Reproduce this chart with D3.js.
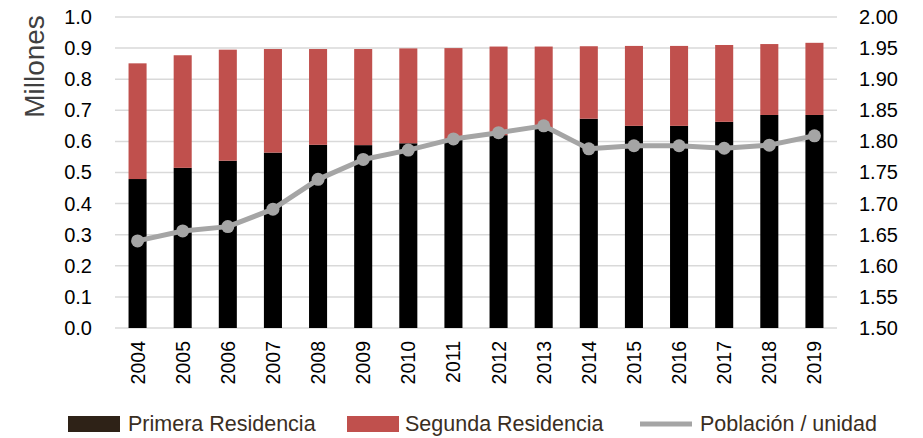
<!DOCTYPE html>
<html><head><meta charset="utf-8">
<script src="https://cdn.jsdelivr.net/npm/d3@7"></script>
<style>body{margin:0;background:#fff;} svg{display:block;}</style>
</head><body>
<script>
const years = ["2004","2005","2006","2007","2008","2009","2010","2011","2012","2013","2014","2015","2016","2017","2018","2019"];
const primera = [0.479,0.515,0.538,0.564,0.589,0.588,0.594,0.607,0.620,0.640,0.673,0.650,0.650,0.663,0.685,0.685];
const total = [0.851,0.877,0.895,0.897,0.897,0.897,0.899,0.900,0.905,0.905,0.906,0.907,0.907,0.910,0.913,0.917];
const segunda = total.map((t,i)=>+(t-primera[i]).toFixed(3));
const poblacion = [1.640,1.656,1.663,1.691,1.739,1.771,1.786,1.804,1.814,1.825,1.788,1.793,1.793,1.789,1.794,1.809];
const leftTicks = [0,0.1,0.2,0.3,0.4,0.5,0.6,0.7,0.8,0.9,1.0];
const rightTicks = [1.50,1.55,1.60,1.65,1.70,1.75,1.80,1.85,1.90,1.95,2.00];
const legendLabels = ["Primera Residencia","Segunda Residencia","Población / unidad"];

const W=923,H=438;
const svg=d3.select("body").append("svg").attr("width",W).attr("height",H);
const font="'Liberation Sans', Arial, sans-serif";
const x=d3.scaleBand().domain(years).range([115,837]).paddingInner(0.6).paddingOuter(0.3);
const y=d3.scaleLinear().domain([0,1]).range([328,17]);
const y2=d3.scaleLinear().domain([1.5,2.0]).range([328,17]);

// gridlines
svg.append("g").selectAll("line").data(leftTicks).join("line")
  .attr("x1",115).attr("x2",837).attr("y1",d=>y(d)).attr("y2",d=>y(d))
  .attr("stroke","#d9d9d9").attr("stroke-width",1.5);

// left axis
const la=svg.append("g").attr("transform","translate(92,0)")
  .call(d3.axisLeft(y).tickValues(leftTicks).tickSize(0).tickPadding(0).tickFormat(d3.format(".1f")));
la.select(".domain").remove();
la.selectAll("text").attr("font-family",font).attr("font-size",20).attr("fill","#000");

// right axis
const ra=svg.append("g").attr("transform","translate(859,0)")
  .call(d3.axisRight(y2).tickValues(rightTicks).tickSize(0).tickPadding(0).tickFormat(d3.format(".2f")));
ra.select(".domain").remove();
ra.selectAll("text").attr("font-family",font).attr("font-size",20).attr("fill","#000");

// Millones
svg.append("text").attr("transform","translate(44,66.5) rotate(-90)")
  .attr("text-anchor","middle").attr("font-family",font).attr("font-size",28).attr("fill","#404040").text("Millones");

// bars
const stack=d3.stack().keys(["p","s"])(years.map((yr,i)=>({yr,p:primera[i],s:segunda[i]})));
const colors=["#000000","#c0504d"];
svg.append("g").selectAll("g").data(stack).join("g").attr("fill",(d,i)=>colors[i])
  .selectAll("rect").data(d=>d).join("rect")
  .attr("x",d=>x(d.data.yr)).attr("width",x.bandwidth())
  .attr("y",d=>y(d[1])).attr("height",d=>y(d[0])-y(d[1]));

// line
const line=d3.line().x((d,i)=>x(years[i])+x.bandwidth()/2).y(d=>y2(d));
svg.append("path").datum(poblacion).attr("d",line).attr("fill","none")
  .attr("stroke","#a5a5a5").attr("stroke-width",5).attr("stroke-linejoin","round");
svg.append("g").selectAll("circle").data(poblacion).join("circle")
  .attr("cx",(d,i)=>x(years[i])+x.bandwidth()/2).attr("cy",d=>y2(d)).attr("r",6.5).attr("fill","#a5a5a5");

// x labels
svg.append("g").selectAll("text").data(years).join("text")
  .attr("transform",d=>`translate(${x(d)+x.bandwidth()/2+7},341) rotate(-90)`)
  .attr("text-anchor","end").attr("font-family",font).attr("font-size",19.5).attr("fill","#000").text(d=>d);

// legend
const lg=svg.append("g");
lg.append("rect").attr("x",68).attr("y",416).attr("width",52).attr("height",16).attr("fill","#2e2217");
lg.append("text").attr("x",128).attr("y",431).text(legendLabels[0]);
lg.append("rect").attr("x",347).attr("y",416).attr("width",52).attr("height",16).attr("fill","#c0504d");
lg.append("text").attr("x",405).attr("y",431).text(legendLabels[1]);
lg.append("line").attr("x1",640).attr("x2",692).attr("y1",424).attr("y2",424).attr("stroke","#a5a5a5").attr("stroke-width",5);
lg.append("text").attr("x",700).attr("y",431).text(legendLabels[2]);
lg.selectAll("text").attr("font-family",font).attr("font-size",21.5).attr("fill","#3a2e22");
</script>
</body></html>
